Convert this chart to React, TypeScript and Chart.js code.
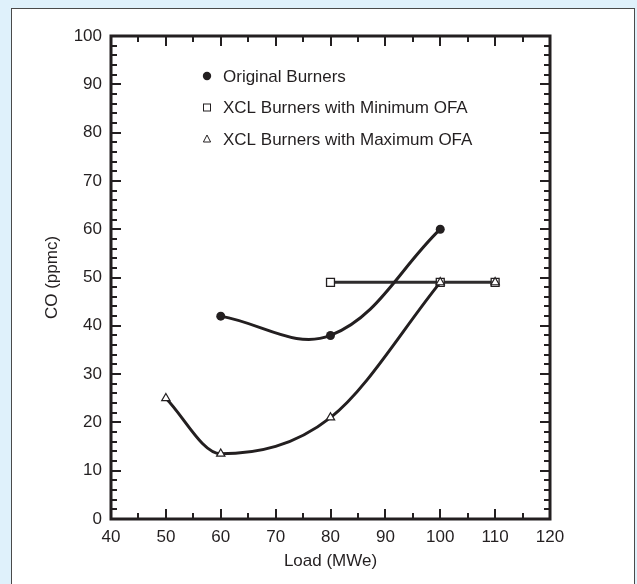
import React, { useEffect, useRef } from "react";
import { Chart, registerables } from "chart.js";

Chart.register(...registerables);

// ---- Data ----
const originalLoad = [60, 80, 100];
const originalCO = [42, 38, 60];

const minOfaLoad = [80, 100, 110];
const minOfaCO = [49, 49, 49];

const maxOfaLoad = [50, 60, 80, 100];
const maxOfaCO = [25, 13.5, 21, 49];

// extra triangle marker drawn inside the last square (no line)
const maxOfaExtraLoad = [110];
const maxOfaExtraCO = [49];

const xTicks = { min: 40, max: 120, step: 10, minorStep: 5 };
const yTicks = { min: 0, max: 100, step: 10, minorStep: 2 };

const seriesNames = [
  "Original Burners",
  "XCL Burners with Minimum OFA",
  "XCL Burners with Maximum OFA",
];

const INK = "#231f20";
const FONT = "'Liberation Sans', Arial, Helvetica, sans-serif";

const toPoints = (xs: number[], ys: number[]) => xs.map((x, i) => ({ x, y: ys[i] }));

const framePlugin = {
  id: "frameTicks",
  afterDatasetsDraw(chart: any) {
    const { ctx, chartArea } = chart;
    const { left, right, top, bottom } = chartArea;
    const xs = chart.scales.x;
    const ys = chart.scales.y;
    ctx.save();
    ctx.strokeStyle = INK;
    ctx.lineCap = "butt";
    ctx.lineWidth = 2;
    for (let v = xTicks.min; v <= xTicks.max + 1e-9; v += xTicks.minorStep) {
      if (v === xTicks.min || v === xTicks.max) continue;
      const major = Math.abs((v - xTicks.min) % xTicks.step) < 1e-9;
      const len = major ? 10 : 6;
      const px = Math.round(xs.getPixelForValue(v));
      ctx.beginPath();
      ctx.moveTo(px, bottom);
      ctx.lineTo(px, bottom - len);
      ctx.moveTo(px, top);
      ctx.lineTo(px, top + len);
      ctx.stroke();
    }
    for (let v = yTicks.min; v <= yTicks.max + 1e-9; v += yTicks.minorStep) {
      if (v === yTicks.min || v === yTicks.max) continue;
      const major = Math.abs((v - yTicks.min) % yTicks.step) < 1e-9;
      const len = major ? 10 : 6;
      const py = Math.round(ys.getPixelForValue(v));
      ctx.beginPath();
      ctx.moveTo(left, py);
      ctx.lineTo(left + len, py);
      ctx.moveTo(right, py);
      ctx.lineTo(right - len, py);
      ctx.stroke();
    }
    ctx.lineWidth = 3;
    ctx.strokeRect(left, top, right - left, bottom - top);
    ctx.restore();
  },
};

const legendPlugin = {
  id: "insideLegend",
  afterDraw(chart: any) {
    const { ctx, chartArea } = chart;
    const x0 = chartArea.left + 96;
    const y0 = chartArea.top + 40;
    const rowH = 31.5;
    ctx.save();
    ctx.font = `17px ${FONT}`;
    ctx.textBaseline = "middle";
    ctx.textAlign = "left";
    const legendSets = chart.data.datasets.filter((d: any) => !d.hideInLegend);
    legendSets.forEach((d: any, i: number) => {
      const y = y0 + i * rowH;
      ctx.strokeStyle = INK;
      ctx.fillStyle = INK;
      ctx.lineWidth = 1;
      if (d.pointStyle === "circle") {
        ctx.beginPath();
        ctx.arc(x0, y, 4.2, 0, Math.PI * 2);
        ctx.fill();
      } else if (d.pointStyle === "rect") {
        ctx.fillStyle = "#fff";
        ctx.fillRect(x0 - 3.5, y - 3.5, 7, 7);
        ctx.strokeRect(x0 - 3.5, y - 3.5, 7, 7);
      } else if (d.pointStyle === "triangle") {
        ctx.beginPath();
        ctx.moveTo(x0, y - 4);
        ctx.lineTo(x0 + 3.6, y + 3);
        ctx.lineTo(x0 - 3.6, y + 3);
        ctx.closePath();
        ctx.fillStyle = "#fff";
        ctx.fill();
        ctx.stroke();
      }
      ctx.fillStyle = INK;
      ctx.fillText(d.label, x0 + 16, y + 1);
    });
    ctx.restore();
  },
};

export default function App() {
  const canvasRef = useRef<HTMLCanvasElement | null>(null);

  useEffect(() => {
    document.body.style.margin = "0";
    const canvas = canvasRef.current;
    if (!canvas) return;
    const chart = new Chart(canvas, {
      type: "line",
      data: {
        datasets: [
          {
            label: seriesNames[0],
            data: toPoints(originalLoad, originalCO),
            borderColor: INK,
            borderWidth: 3,
            backgroundColor: INK,
            pointStyle: "circle",
            pointRadius: 4.5,
            pointBackgroundColor: INK,
            pointBorderColor: INK,
            pointBorderWidth: 0,
            tension: 0.38,
            fill: false,
            order: 0,
          } as any,
          {
            label: seriesNames[1],
            data: toPoints(minOfaLoad, minOfaCO),
            borderColor: "#2e2c2d",
            borderWidth: 3,
            pointStyle: "rect",
            pointRadius: 5.6,
            pointBackgroundColor: "#ffffff",
            pointBorderColor: INK,
            pointBorderWidth: 1.3,
            tension: 0,
            fill: false,
            order: 2,
          } as any,
          {
            label: seriesNames[2],
            data: toPoints(maxOfaLoad, maxOfaCO),
            borderColor: INK,
            borderWidth: 3,
            pointStyle: "triangle",
            pointRadius: 4.8,
            pointBackgroundColor: "#ffffff",
            pointBorderColor: INK,
            pointBorderWidth: 1.2,
            cubicInterpolationMode: "monotone",
            fill: false,
            order: 1,
          } as any,
          {
            label: seriesNames[2],
            hideInLegend: true,
            data: toPoints(maxOfaExtraLoad, maxOfaExtraCO),
            showLine: false,
            pointStyle: "triangle",
            pointRadius: 4.8,
            pointBackgroundColor: "#ffffff",
            pointBorderColor: INK,
            pointBorderWidth: 1.2,
            order: 1,
          } as any,
        ],
      },
      options: {
        responsive: false,
        animation: false,
        events: [],
        layout: { padding: { left: 0, top: 36, right: 87, bottom: 0 } },
        plugins: {
          legend: { display: false },
          tooltip: { enabled: false },
          title: { display: false },
        },
        scales: {
          x: {
            type: "linear",
            min: xTicks.min,
            max: xTicks.max,
            grid: { display: false, drawTicks: false },
            border: { display: false },
            ticks: {
              stepSize: xTicks.step,
              color: INK,
              padding: 8,
              font: { family: FONT, size: 17 },
              maxRotation: 0,
            },
            title: {
              display: true,
              text: "Load (MWe)",
              color: INK,
              font: { family: FONT, size: 17 },
              padding: { top: 0, bottom: 12 },
            },
            afterFit: (scale: any) => {
              scale.height = 65;
            },
          },
          y: {
            type: "linear",
            min: yTicks.min,
            max: yTicks.max,
            grid: { display: false, drawTicks: false },
            border: { display: false },
            ticks: {
              stepSize: yTicks.step,
              color: INK,
              padding: 9,
              font: { family: FONT, size: 17 },
            },
            title: {
              display: true,
              text: "CO (ppmc)",
              color: INK,
              font: { family: FONT, size: 17 },
              padding: { top: 42, bottom: 0 },
            },
            afterFit: (scale: any) => {
              scale.width = 111;
            },
          },
        },
      },
      plugins: [framePlugin, legendPlugin],
    });
    return () => chart.destroy();
  }, []);

  return (
    <div
      style={{
        position: "relative",
        width: 637,
        height: 584,
        background: "#dff1fb",
        overflow: "hidden",
      }}
    >
      <div
        style={{
          position: "absolute",
          left: 11,
          top: 8,
          width: 622,
          height: 620,
          background: "#ffffff",
          border: "1.5px solid #4a4a4a",
        }}
      />
      <canvas
        ref={canvasRef}
        width={637}
        height={584}
        style={{ position: "absolute", left: 0, top: 0, width: 637, height: 584 }}
      />
    </div>
  );
}
